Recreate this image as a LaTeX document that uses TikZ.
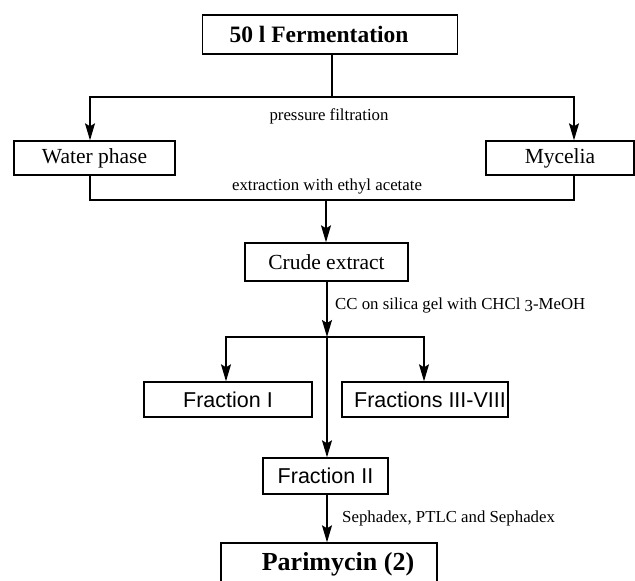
\documentclass[tikz,border=0pt]{standalone}
\usepackage{fontspec}
\setmainfont{Liberation Serif}
\newfontfamily\arialfont{Liberation Sans}
\usetikzlibrary{arrows.meta}
\begin{document}
\begin{tikzpicture}[x=1pt,y=-1pt,
  box/.style={draw,line width=1.4pt,inner sep=0pt,anchor=center},
  serifbox/.style={box,font=\fontsize{21.5}{24}\selectfont},
  sansbox/.style={box,font=\arialfont\fontsize{21.5}{24}\selectfont},
  boldbox/.style={box,font=\bfseries\fontsize{23.5}{26}\selectfont},
  lbl/.style={font=\fontsize{16.8}{19}\selectfont,inner sep=0pt},
  conn/.style={line width=1.3pt},
  arr/.style={conn,-{Stealth[length=17pt,width=10pt,inset=3pt]}}]
\useasboundingbox (0,0) rectangle (635,581);
% nodes
\node[boldbox,minimum width=255pt,minimum height=39pt] (ferm) at (330,34.5) {50 l Fermentation\hspace*{22pt}};
\node[serifbox,minimum width=161pt,minimum height=34pt] (water) at (94.5,158) {Water phase};
\node[serifbox,minimum width=148pt,minimum height=34pt] (myc) at (560,158) {Mycelia};
\node[serifbox,minimum width=163pt,minimum height=38pt] (crude) at (326.5,262) {Crude extract};
\node[sansbox,minimum width=168pt,minimum height=35pt] (frac1) at (228,399.5) {Fraction I};
\node[sansbox,minimum width=166pt,minimum height=35pt] (frac3) at (425,399.5) {\hspace*{10pt}Fractions III-VIII};
\node[sansbox,minimum width=125pt,minimum height=36pt] (frac2) at (325.5,476) {Fraction II};
\node[box,font=\bfseries\fontsize{26}{29}\selectfont,minimum width=216pt,minimum height=42pt] (pari) at (329,564) {\hspace*{18pt}Parimycin (2)};
% labels
\node[lbl] (lpf) at (329,116) {pressure filtration};
\node[lbl] (lext) at (327,186) {extraction with ethyl acetate};
\node[lbl,anchor=west] (lcc) at (335,305) {CC on silica gel with CHCl \raisebox{-2pt}{3}-MeOH};
\node[lbl,anchor=west] (lseph) at (342,518) {Sephadex, PTLC and Sephadex};
% junction points
\coordinate (s1) at (332,97);
\coordinate (s2) at (326,200);
\coordinate (s3) at (327,337);
% connectors
\draw[conn] (ferm.south -| s1) -- (s1);
\draw[arr] (s1) -| ([xshift=-4.5pt]water.north);
\draw[arr] (s1) -| ([xshift=14pt]myc.north);
\draw[conn] ([xshift=-4.5pt]water.south) |- (s2);
\draw[conn] ([xshift=14pt]myc.south) |- (s2);
\draw[arr] (s2) -- (s2 |- crude.north);
\draw[arr] (crude.south -| s3) -- (s3);
\draw[arr] (s3) -| ([xshift=-2pt]frac1.north);
\draw[arr] (s3) -| ([xshift=-1pt]frac3.north);
\draw[arr] (s3) -- (s3 |- frac2.north);
\draw[arr] (frac2.south -| s3) -- (s3 |- pari.north);
\end{tikzpicture}
\end{document}
